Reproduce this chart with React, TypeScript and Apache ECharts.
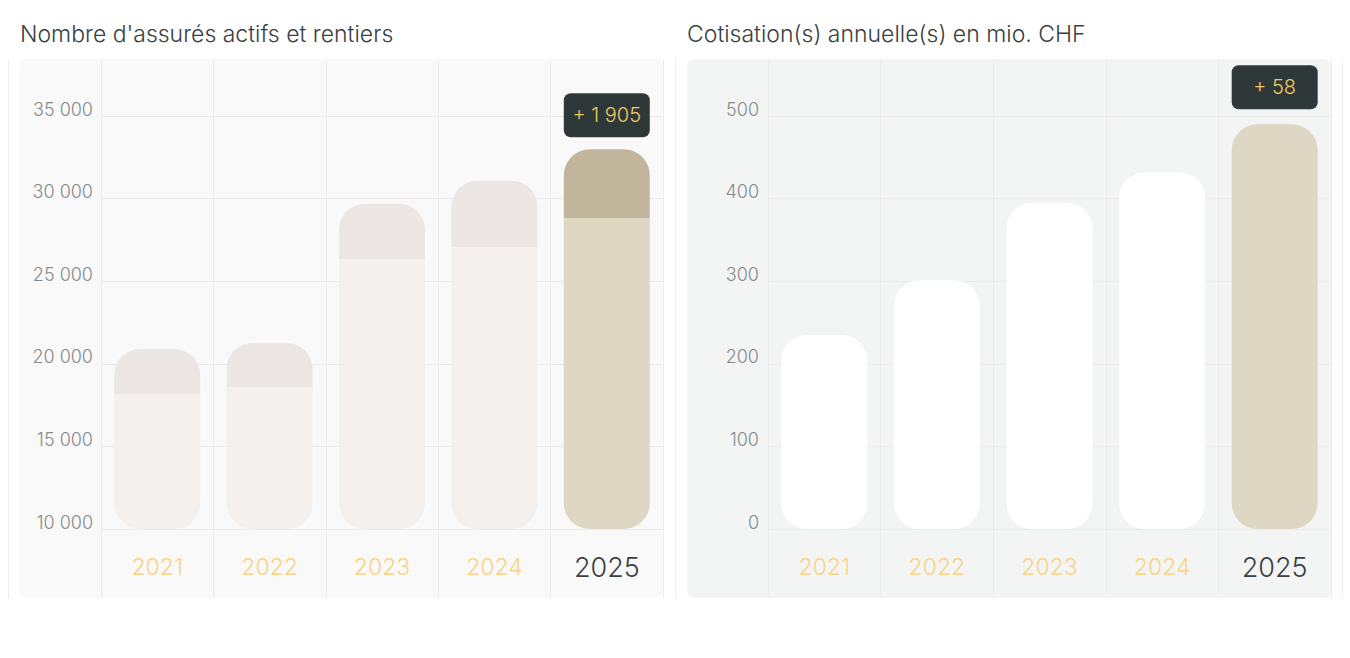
import * as echarts from 'echarts';
import { useEffect, useRef } from 'react';

const years = ['2021', '2022', '2023', '2024', '2025'];
// Nombre d'assurés : actifs (bas) + rentiers (haut)
const actifs = [18170, 18600, 26330, 27050, 28830];
const rentiers = [2730, 2660, 3360, 4030, 4155];
// Cotisations annuelles en mio. CHF
const cotisations = [235, 301, 395, 432, 490];

const leftTicks = { min: 10000, max: 35000, interval: 5000 };
const rightTicks = { min: 0, max: 500, interval: 100 };

const fmt = (n: number) => String(n).replace(/\B(?=(\d{3})+(?!\d))/g, ' ');

const FONT = 'Inter, "Noto Sans", sans-serif';
const GRID_LINE = '#efeaea';
const R = 26;
const last = years.length - 1;

const badge = (text: string, distance: number) => ({
  show: true,
  position: 'top',
  distance,
  formatter: text,
  color: '#f1c862',
  fontSize: 20,
  fontWeight: 300,
  lineHeight: 20,
  fontFamily: FONT,
  backgroundColor: '#2f3839',
  borderRadius: 7,
  padding: [12, 0],
  width: 86,
  align: 'center',
});

const yearLabel = {
  margin: 23,
  formatter: (v: string, i: number) => (i === last ? `{cur|${v}}` : `{old|${v}}`),
  rich: {
    cur: { fontSize: 27, fontWeight: 300, color: '#3a4143', lineHeight: 30, fontFamily: FONT },
    old: { fontSize: 23, fontWeight: 300, color: '#f8d385', lineHeight: 30, fontFamily: FONT },
  },
};

const valueLabel = (margin: number) => ({
  margin,
  color: '#858a8b',
  fontSize: 18,
  fontWeight: 300,
  lineHeight: 14,
  verticalAlign: 'bottom',
  fontFamily: FONT,
  formatter: (v: number) => fmt(v),
});

const titleStyle = { fontSize: 23, fontWeight: 300, color: '#3a4042', fontFamily: FONT };

export default function App() {
  const container = useRef<HTMLDivElement | null>(null);

  useEffect(() => {
    document.body.style.margin = '0';
    if (!container.current) return;
    const chart = echarts.init(container.current, undefined, { renderer: 'svg' });

    const totals = actifs.map((a, i) => a + rentiers[i]);
    const diffLeft = totals[last] - totals[last - 1];
    const diffRight = cotisations[last] - cotisations[last - 1];

    chart.setOption({
      animation: false,
      textStyle: { fontFamily: FONT },
      title: [
        { text: "Nombre d'assurés actifs et rentiers", left: 20, top: 22, padding: 0, textStyle: titleStyle },
        { text: 'Cotisation(s) annuelle(s) en mio. CHF', left: 687, top: 22, padding: 0, textStyle: titleStyle },
      ],
      graphic: [
        { type: 'rect', z: -10, shape: { x: 19, y: 59, width: 644, height: 539, r: 8 }, style: { fill: '#f9f9f9' } },
        { type: 'rect', z: -10, shape: { x: 687, y: 59, width: 645, height: 539, r: 8 }, style: { fill: '#f3f5f4' } },
        { type: 'line', z: -10, shape: { x1: 8.5, y1: 59, x2: 8.5, y2: 598 }, style: { stroke: '#eeeeee', lineWidth: 1 } },
        { type: 'line', z: -10, shape: { x1: 675.5, y1: 59, x2: 675.5, y2: 598 }, style: { stroke: '#eeeeee', lineWidth: 1 } },
        { type: 'line', z: -10, shape: { x1: 1342.5, y1: 59, x2: 1342.5, y2: 598 }, style: { stroke: '#eeeeee', lineWidth: 1 } },
      ],
      grid: [
        { left: 101, top: 116, width: 562, height: 413 },
        { left: 101, top: 59, width: 562, height: 539 },
        { left: 768, top: 116, width: 563, height: 413 },
        { left: 768, top: 59, width: 563, height: 539 },
      ],
      xAxis: [
        {
          gridIndex: 0,
          type: 'category',
          data: years,
          axisLine: { show: false },
          axisTick: { show: false },
          splitLine: { show: false },
          axisLabel: yearLabel,
        },
        {
          gridIndex: 1,
          type: 'category',
          data: years,
          axisLine: { show: false },
          axisTick: { show: false },
          axisLabel: { show: false },
          splitLine: { show: true, lineStyle: { color: GRID_LINE } },
        },
        {
          gridIndex: 2,
          type: 'category',
          data: years,
          axisLine: { show: false },
          axisTick: { show: false },
          splitLine: { show: false },
          axisLabel: yearLabel,
        },
        {
          gridIndex: 3,
          type: 'category',
          data: years,
          axisLine: { show: false },
          axisTick: { show: false },
          axisLabel: { show: false },
          splitLine: { show: true, lineStyle: { color: GRID_LINE } },
        },
      ],
      yAxis: [
        {
          gridIndex: 0,
          type: 'value',
          ...leftTicks,
          axisLine: { show: false },
          axisTick: { show: false },
          axisLabel: valueLabel(8),
          splitLine: { lineStyle: { color: GRID_LINE } },
        },
        { gridIndex: 1, type: 'value', show: false },
        {
          gridIndex: 2,
          type: 'value',
          ...rightTicks,
          axisLine: { show: false },
          axisTick: { show: false },
          axisLabel: valueLabel(9),
          splitLine: { lineStyle: { color: GRID_LINE } },
        },
        { gridIndex: 3, type: 'value', show: false },
      ],
      series: [
        {
          name: 'Actifs',
          type: 'bar',
          xAxisIndex: 0,
          yAxisIndex: 0,
          stack: 'assures',
          barWidth: 86,
          itemStyle: { borderRadius: [0, 0, R, R] },
          data: actifs.map((v, i) => ({
            value: v,
            itemStyle: { color: i === last ? '#ddd7c4' : '#f4f0ed' },
          })),
        },
        {
          name: 'Rentiers',
          type: 'bar',
          xAxisIndex: 0,
          yAxisIndex: 0,
          stack: 'assures',
          barWidth: 86,
          itemStyle: { borderRadius: [R, R, 0, 0] },
          data: rentiers.map((v, i) => ({
            value: v,
            itemStyle: { color: i === last ? '#c1b59b' : '#ece6e5' },
            label: i === last ? badge(`+ ${fmt(diffLeft)}`, 12) : { show: false },
          })),
        },
        {
          name: 'Cotisations',
          type: 'bar',
          xAxisIndex: 2,
          yAxisIndex: 2,
          barWidth: 86,
          itemStyle: { borderRadius: R },
          data: cotisations.map((v, i) => ({
            value: v,
            itemStyle: { color: i === last ? '#ddd7c4' : '#ffffff' },
            label: i === last ? badge(`+ ${fmt(diffRight)}`, 15) : { show: false },
          })),
        },
      ],
    } as echarts.EChartsOption);

    return () => chart.dispose();
  }, []);

  return <div ref={container} style={{ width: 1350, height: 658 }} />;
}
